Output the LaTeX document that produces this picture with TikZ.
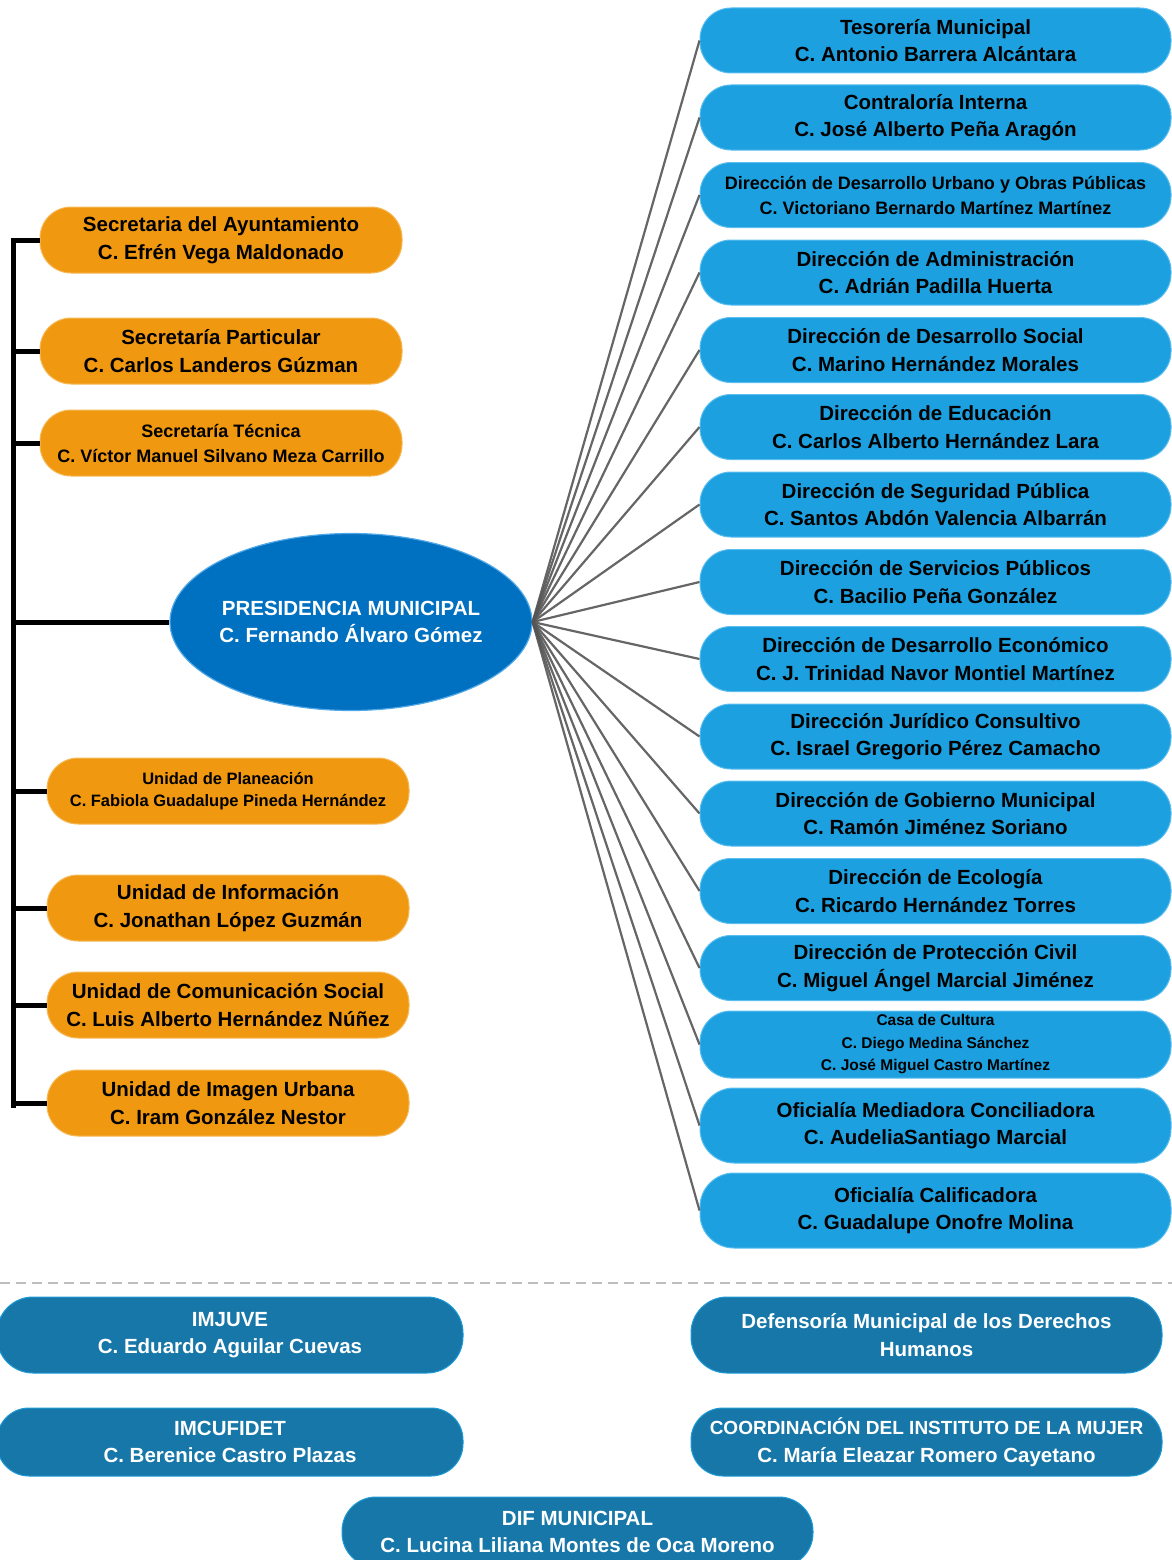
\documentclass[tikz,border=0pt]{standalone}
\usepackage{fontspec}
\setmainfont{Liberation Sans}
\usetikzlibrary{shapes.geometric}
\definecolor{orangebox}{RGB}{240,152,16}
\definecolor{orangeedge}{RGB}{246,186,90}
\definecolor{bluebox}{RGB}{29,160,224}
\definecolor{blueedge}{RGB}{90,190,240}
\definecolor{presfill}{RGB}{0,112,192}
\definecolor{presedge}{RGB}{80,168,232}
\definecolor{tealbox}{RGB}{23,119,168}
\definecolor{tealedge}{RGB}{30,155,215}
\definecolor{linkgray}{RGB}{85,85,85}
\definecolor{dashgray}{RGB}{190,190,190}
\newcommand{\bigtxt}{\fontsize{20.5}{27.5}\selectfont\bfseries}
\newcommand{\midtxt}{\fontsize{18}{25}\selectfont\bfseries}
\newcommand{\smalltxt}{\fontsize{16.5}{22.5}\selectfont\bfseries}
\newcommand{\tinytxt}{\fontsize{15.5}{22.5}\selectfont\bfseries}
\tikzset{
  x=1pt, y=-1pt,
  basebox/.style={rectangle, rounded corners=31pt, inner sep=0pt, align=center, line width=1pt},
  leftbox/.style={basebox, fill=orangebox, draw=orangeedge, minimum width=362pt, minimum height=66pt, text=black, font=\bigtxt},
  rightbox/.style={basebox, fill=bluebox, draw=blueedge, minimum width=471pt, minimum height=65pt, text=black, font=\bigtxt},
  bottombox/.style={basebox, fill=tealbox, draw=tealedge, minimum width=471pt, minimum height=70pt, text=white, font=\bigtxt},
  presnode/.style={ellipse, fill=presfill, draw=presedge, line width=1.2pt, minimum width=362pt, minimum height=177pt, inner xsep=-40pt, inner ysep=0pt, align=center, text=white, font=\bigtxt},
  spoke/.style={draw=linkgray, line width=2.2pt, opacity=0.9},
  bracket/.style={draw=black, line width=5pt},
}
\begin{document}
\begin{tikzpicture}
\useasboundingbox (0,0) rectangle (1172,1560);

% central node
\node[presnode] (pres) at (351,622) {PRESIDENCIA MUNICIPAL\\C. Fernando Álvaro Gómez};

% left boxes
\node[leftbox] (l1) at (221,240) {Secretaria del Ayuntamiento\\C. Efrén Vega Maldonado};
\node[leftbox] (l2) at (221,351) {Secretaría Particular\\C. Carlos Landeros Gúzman};
\node[leftbox, font=\midtxt] (l3) at (221,443) {Secretaría Técnica\\C. Víctor Manuel Silvano Meza Carrillo};
\node[leftbox, font=\smalltxt] (l4) at (228,791) {Unidad de Planeación\\C. Fabiola Guadalupe Pineda Hernández};
\node[leftbox] (l5) at (228,908) {Unidad de Información\\C. Jonathan López Guzmán};
\node[leftbox] (l6) at (228,1005) {Unidad de Comunicación Social\\C. Luis Alberto Hernández Núñez};
\node[leftbox] (l7) at (228,1103) {Unidad de Imagen Urbana\\C. Iram González Nestor};

% right boxes
\node[rightbox] (r1) at (935.5,40.5) {Tesorería Municipal\\C. Antonio Barrera Alcántara};
\node[rightbox] (r2) at (935.5,117.5) {Contraloría Interna\\C. José Alberto Peña Aragón};
\node[rightbox, font=\midtxt] (r3) at (935.5,195) {Dirección de Desarrollo Urbano y Obras Públicas\\C. Victoriano Bernardo Martínez Martínez};
\node[rightbox] (r4) at (935.5,272.5) {Dirección de Administración\\C. Adrián Padilla Huerta};
\node[rightbox] (r5) at (935.5,350) {Dirección de Desarrollo Social\\C. Marino Hernández Morales};
\node[rightbox] (r6) at (935.5,427) {Dirección de Educación\\C. Carlos Alberto Hernández Lara};
\node[rightbox] (r7) at (935.5,504.5) {Dirección de Seguridad Pública\\C. Santos Abdón Valencia Albarrán};
\node[rightbox] (r8) at (935.5,582) {Dirección de Servicios Públicos\\C. Bacilio Peña González};
\node[rightbox] (r9) at (935.5,659) {Dirección de Desarrollo Económico\\C. J. Trinidad Navor Montiel Martínez};
\node[rightbox] (r10) at (935.5,736.5) {Dirección Jurídico Consultivo\\C. Israel Gregorio Pérez Camacho};
\node[rightbox] (r11) at (935.5,813.5) {Dirección de Gobierno Municipal\\C. Ramón Jiménez Soriano};
\node[rightbox] (r12) at (935.5,891) {Dirección de Ecología\\C. Ricardo Hernández Torres};
\node[rightbox] (r13) at (935.5,968) {Dirección de Protección Civil\\C. Miguel Ángel Marcial Jiménez};
\node[rightbox, font=\tinytxt, minimum height=67pt] (r14) at (935.5,1044.5) {Casa de Cultura\\C. Diego Medina Sánchez\\C. José Miguel Castro Martínez};
\node[rightbox, minimum height=75pt, rounded corners=34pt] (r15) at (935.5,1125.5) {Oficialía Mediadora Conciliadora\\C. AudeliaSantiago Marcial};
\node[rightbox, minimum height=75pt, rounded corners=34pt] (r16) at (935.5,1210.5) {Oficialía Calificadora\\C. Guadalupe Onofre Molina};

% spokes
\foreach \i in {1,...,16} {
  \draw[spoke] (pres.east) -- (r\i.west);
}

% left bracket
\coordinate (btop) at (13,240);
\coordinate (bbot) at (13,1105);
\draw[bracket, line cap=rect] (btop) -- (bbot);
\foreach \i in {1,...,7} {
  \draw[bracket] (l\i.west) -- (l\i.west -| btop);
}
\draw[bracket] (pres.west) -- (pres.west -| btop);

% dashed separator
\coordinate (dashl) at (0,1283);
\coordinate (dashr) at (1172,1283);
\draw[draw=dashgray, line width=1.5pt, dash pattern=on 10pt off 6pt] (dashl) -- (dashr);

% bottom boxes
\node[bottombox, minimum width=466pt, minimum height=76pt, rounded corners=36pt] (b1) at (230,1335) {IMJUVE\\C. Eduardo Aguilar Cuevas};
\node[bottombox, minimum height=76pt, rounded corners=36pt] (b2) at (926.5,1335) {Defensoría Municipal de los Derechos\\Humanos};
\node[bottombox, minimum width=466pt, minimum height=68pt, rounded corners=32pt] (b3) at (230,1442) {IMCUFIDET\\C. Berenice Castro Plazas};
\node[bottombox, minimum height=68pt, rounded corners=32pt] (b4) at (926.5,1442) {\fontsize{19}{27.5}\selectfont COORDINACIÓN DEL INSTITUTO DE LA MUJER\\C. María Eleazar Romero Cayetano};
\node[bottombox, rounded corners=34pt] (b5) at (577.5,1532) {DIF MUNICIPAL\\C. Lucina Liliana Montes de Oca Moreno};
\end{tikzpicture}
\end{document}
